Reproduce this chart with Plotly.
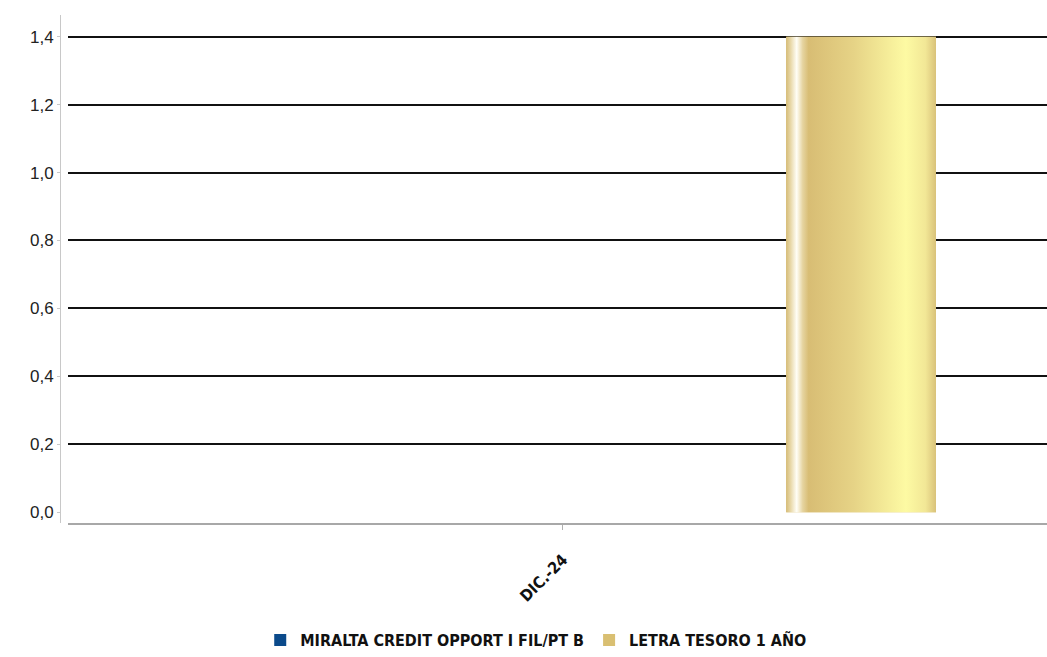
import plotly.graph_objects as go

categories = ["DIC.-24"]
series_names = ["MIRALTA CREDIT OPPORT I FIL/PT B", "LETRA TESORO 1 AÑO"]
miralta = [0]
letra = [1.4]
y_ticks = [0, 0.2, 0.4, 0.6, 0.8, 1.0, 1.2, 1.4]
y_labels = ["0,0", "0,2", "0,4", "0,6", "0,8", "1,0", "1,2", "1,4"]

blue = "#0B4A8B"
gold = "#D9BF72"
font_leg = "DejaVu Sans Condensed, Liberation Sans, Arial, sans-serif"

xpos = list(range(len(categories)))
bar_w = 0.153
off_blue = -0.38
off_gold = 0.228

fig = go.Figure()
fig.add_trace(go.Bar(x=xpos, y=miralta, name=series_names[0], width=bar_w, offset=off_blue,
                     marker=dict(color=blue, line=dict(width=0))))
fig.add_trace(go.Bar(x=xpos, y=letra, name=series_names[1], width=bar_w, offset=off_gold,
                     marker=dict(color=gold, line=dict(width=0))))

# gradient overlay for the gold bar, derived from the bar data
for xi, v in zip(xpos, letra):
    x0 = xi + off_gold
    x1 = x0 + bar_w
    fig.add_trace(go.Scatter(
        x=[x0, x1, x1, x0, x0], y=[0, 0, v, v, 0], mode="lines", fill="toself",
        line=dict(width=0), showlegend=False, hoverinfo="skip",
        fillgradient=dict(type="horizontal", colorscale=[
            [0.0, "#D6BC78"], [0.03, "#E8D8A8"], [0.07, "#FFFEF6"], [0.11, "#E6D4A0"],
            [0.15, "#D8BD74"], [0.45, "#E6D386"], [0.8, "#FDFAA3"], [0.93, "#F2E796"],
            [1.0, "#D9C27A"]])))

fig.update_layout(
    width=1047, height=657,
    margin=dict(l=60, r=0, t=15, b=130),
    paper_bgcolor="white", plot_bgcolor="white",
    barmode="group",
    showlegend=True,
    legend=dict(orientation="h", x=0.482, xanchor="center", y=-0.2305, yanchor="middle",
                font=dict(family=font_leg, size=16, color="#111111", weight="bold"),
                itemwidth=30, tracegroupgap=0),
    xaxis=dict(domain=[0.0081, 1], range=[-0.5056, 0.4944], tickvals=xpos, ticktext=categories,
               tickangle=-45, showgrid=False, zeroline=False,
               showline=True, linecolor="#A8A8A8", linewidth=2,
               ticks="outside", ticklen=5, tickcolor="#B0B0B0", ticklabelstandoff=14,
               tickfont=dict(family=font_leg, size=16, color="#111111", weight="bold")),
    yaxis=dict(anchor="free", position=0, range=[-0.032, 1.464],
               tickvals=y_ticks, ticktext=y_labels,
               showgrid=True, gridcolor="#111111", gridwidth=2,
               zeroline=True, zerolinecolor="rgba(0,0,0,0)", zerolinewidth=0.1,
               showline=True, linecolor="#C8C8C8", linewidth=1,
               ticks="outside", ticklen=3, tickcolor="#C8C8C8",
               tickfont=dict(family="Liberation Sans, Arial, sans-serif", size=17, color="#222222")),
)

fig.write_html("out.html", config={"displayModeBar": False},
               post_script="document.body.style.margin='0';document.body.style.overflow='hidden';")
